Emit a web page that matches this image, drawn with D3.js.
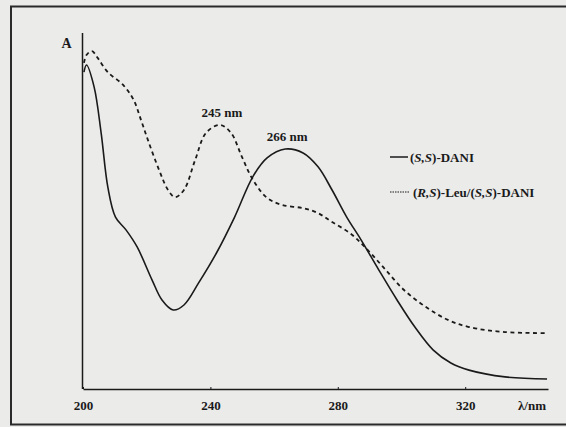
<!DOCTYPE html>
<html>
<head>
<meta charset="utf-8">
<script src="https://cdn.jsdelivr.net/npm/d3@7"></script>
<style>
  body { margin: 0; background: #ebebea; }
  svg text { font-family: "Liberation Serif", "DejaVu Serif", serif; fill: #1a1a1a; }
</style>
</head>
<body>
<div id="chart"></div>
<script>
// wavelength (nm) and absorbance (arbitrary units)
const ssWave = [200.3, 201.1, 203.5, 205.7, 207.8, 210.2, 213.5, 217.0, 221.7, 224.8, 228.3, 231.7, 236.3, 241.9, 247.6, 253.3, 257.8, 263.5, 269.1, 273.8, 278.2, 282.8, 287.3, 292.9, 298.6, 304.2, 309.9, 315.5, 321.2, 332.5, 345.7];
const ssAbs  = [0.890, 0.910, 0.848, 0.719, 0.567, 0.483, 0.447, 0.399, 0.306, 0.250, 0.222, 0.236, 0.298, 0.382, 0.483, 0.596, 0.649, 0.674, 0.663, 0.624, 0.559, 0.483, 0.419, 0.334, 0.250, 0.174, 0.110, 0.073, 0.053, 0.034, 0.028];

const leuWave = [200.3, 201.1, 202.8, 204.6, 207.8, 212.6, 215.9, 218.2, 220.4, 223.9, 226.7, 228.9, 231.7, 235.2, 238.6, 243.0, 246.5, 249.9, 253.4, 257.8, 262.5, 269.1, 273.8, 278.2, 283.8, 288.5, 294.2, 300.8, 307.7, 314.6, 321.2, 332.5, 345.7];
const leuAbs  = [0.916, 0.938, 0.949, 0.930, 0.890, 0.854, 0.812, 0.756, 0.699, 0.615, 0.559, 0.539, 0.559, 0.643, 0.719, 0.742, 0.719, 0.652, 0.587, 0.537, 0.517, 0.508, 0.494, 0.469, 0.438, 0.399, 0.343, 0.278, 0.230, 0.194, 0.174, 0.160, 0.157];

const xTicks = [200, 240, 280, 320];
const peakLabels = [{nm: 243.0, a: 0.742, text: "245 nm"}, {nm: 263.5, a: 0.674, text: "266 nm"}];

const W = 566, H = 427;
const svg = d3.select("#chart").append("svg")
    .attr("width", W)
    .attr("height", H);

// frame (right edge runs off the picture)
svg.append("rect")
    .attr("x", 11).attr("y", 6.5)
    .attr("width", 570).attr("height", 418)
    .attr("fill", "#ebebea")
    .attr("stroke", "#2a2a2a")
    .attr("stroke-width", 2);

const x = d3.scaleLinear().domain([200, 346]).range([83, 548]);
const y = d3.scaleLinear().domain([0, 1]).range([389, 33]);

// axes
const xAxis = svg.append("g")
    .attr("transform", `translate(0,${y(0)})`)
    .call(d3.axisBottom(x).tickValues(xTicks).tickSize(-2).tickPadding(12).tickSizeOuter(0));
xAxis.select(".domain").attr("stroke", "#1a1a1a").attr("stroke-width", 1.5);
xAxis.selectAll(".tick line").attr("stroke", "#1a1a1a");
xAxis.selectAll(".tick text")
    .attr("font-size", 13).attr("font-weight", "bold")
    .attr("font-family", "Liberation Serif")
    .attr("fill", "#1a1a1a");

svg.append("line")
    .attr("x1", x(200) - 0.5).attr("x2", x(200) - 0.5)
    .attr("y1", y(0)).attr("y2", y(1))
    .attr("stroke", "#1a1a1a").attr("stroke-width", 1.5);

svg.append("text")
    .attr("x", 66.5).attr("y", 48)
    .attr("text-anchor", "middle")
    .attr("font-size", 14).attr("font-weight", "bold")
    .text("A");

svg.append("text")
    .attr("x", 532).attr("y", 410)
    .attr("text-anchor", "middle")
    .attr("font-size", 13).attr("font-weight", "bold")
    .text("λ/nm");

const line = d3.line()
    .x(d => x(d[0]))
    .y(d => y(d[1]))
    .curve(d3.curveCatmullRom.alpha(0.5));

svg.append("path")
    .datum(d3.zip(ssWave, ssAbs))
    .attr("d", line)
    .attr("fill", "none")
    .attr("stroke", "#1a1a1a")
    .attr("stroke-width", 1.6);

svg.append("path")
    .datum(d3.zip(leuWave, leuAbs))
    .attr("d", line)
    .attr("fill", "none")
    .attr("stroke", "#1a1a1a")
    .attr("stroke-width", 1.8)
    .attr("stroke-dasharray", "4,3.5");

// peak labels
svg.selectAll(".peak")
    .data(peakLabels)
    .enter().append("text")
    .attr("x", d => x(d.nm) + 2)
    .attr("y", d => y(d.a) - 8)
    .attr("text-anchor", "middle")
    .attr("font-size", 13).attr("font-weight", "bold")
    .text(d => d.text);

// legend
const legend = svg.append("g");
legend.append("line")
    .attr("x1", 390).attr("x2", 408).attr("y1", 157).attr("y2", 157)
    .attr("stroke", "#1a1a1a").attr("stroke-width", 1.5);
const t1 = legend.append("text").attr("x", 410).attr("y", 162)
    .attr("font-size", 13).attr("font-weight", "bold");
t1.append("tspan").text("(");
t1.append("tspan").attr("font-style", "italic").text("S,S");
t1.append("tspan").text(")-DANI");

legend.append("line")
    .attr("x1", 390).attr("x2", 409).attr("y1", 192).attr("y2", 192)
    .attr("stroke", "#1a1a1a").attr("stroke-width", 1.2)
    .attr("stroke-dasharray", "1.5,1");
const t2 = legend.append("text").attr("x", 413).attr("y", 197)
    .attr("font-size", 13).attr("font-weight", "bold");
t2.append("tspan").text("(");
t2.append("tspan").attr("font-style", "italic").text("R,S");
t2.append("tspan").text(")-Leu/(");
t2.append("tspan").attr("font-style", "italic").text("S,S");
t2.append("tspan").text(")-DANI");
</script>
</body>
</html>
